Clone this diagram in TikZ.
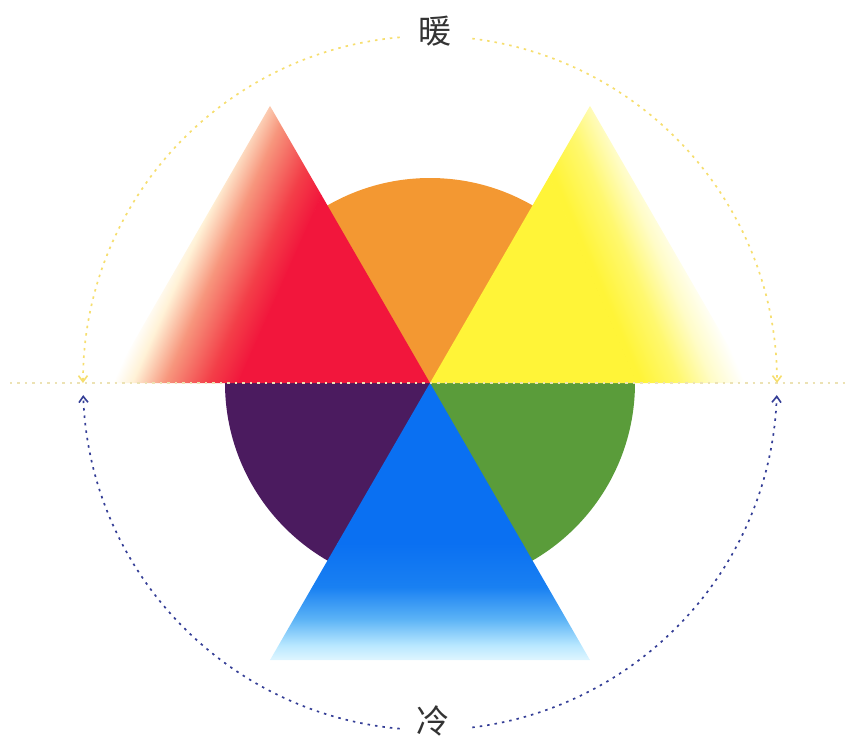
\documentclass[tikz,border=0pt]{standalone}
\usepackage{fontspec}
\newfontfamily\cjk{Noto Sans CJK SC}
\usetikzlibrary{arrows.meta}
\definecolor{cred}{RGB}{242,22,60}
\definecolor{corange}{RGB}{243,152,50}
\definecolor{cyellow}{RGB}{255,244,56}
\definecolor{cpurple}{RGB}{75,27,95}
\definecolor{cgreen}{RGB}{90,156,58}
\definecolor{cblue}{RGB}{10,112,242}
\definecolor{rcream}{RGB}{255,242,215}
\definecolor{rsalmon}{RGB}{247,150,125}
\definecolor{rpink}{RGB}{243,62,72}
\definecolor{ylight}{RGB}{255,248,110}
\definecolor{ypale}{RGB}{255,252,200}
\definecolor{bwhite}{RGB}{236,250,255}
\definecolor{bpale}{RGB}{185,232,255}
\definecolor{bmid}{RGB}{90,178,246}
\definecolor{bdeep}{RGB}{25,128,242}
\definecolor{warmline}{RGB}{246,222,110}
\definecolor{coldline}{RGB}{52,62,150}
\definecolor{axisline}{RGB}{236,226,180}
\pgfdeclarehorizontalshading{redfade}{100bp}{color(0bp)=(white); color(29bp)=(white); color(36bp)=(rcream); color(48bp)=(rsalmon); color(64bp)=(rpink); color(75bp)=(cred); color(100bp)=(cred)}
\pgfdeclarehorizontalshading{yellowfade}{100bp}{color(0bp)=(cyellow); color(27.3bp)=(cyellow); color(43.2bp)=(ylight); color(57.3bp)=(ypale); color(70.5bp)=(white); color(100bp)=(white)}
\pgfdeclareverticalshading{bluefade}{100bp}{color(0bp)=(bwhite); color(25bp)=(bwhite); color(33bp)=(bpale); color(44bp)=(bmid); color(57bp)=(bdeep); color(75bp)=(cblue); color(100bp)=(cblue)}
\begin{document}
\begin{tikzpicture}[x=1pt,y=1pt,
  warmarc/.style={draw=warmline,line width=1.7pt,dash pattern=on 2.5pt off 5pt,
    -{Straight Barb[length=6pt,width=9pt,line width=1.6pt]}},
  coldarc/.style={draw=coldline,line width=1.7pt,dash pattern=on 2.5pt off 5pt,
    -{Straight Barb[length=6pt,width=9pt,line width=1.6pt]}},
  axis/.style={draw=axisline,line width=1.7pt,dash pattern=on 2.5pt off 5pt},
  lab/.style={font=\cjk\fontsize{33}{33}\selectfont,text=black!80,inner sep=0pt}]
\useasboundingbox (-430,-362) rectangle (416,383);
% circle sectors
\fill[corange] (0,0) -- (205,0) arc[start angle=0,end angle=180,radius=205] -- cycle;
\fill[cpurple] (0,0) -- (-205,0) arc[start angle=180,end angle=270,radius=205] -- cycle;
\fill[cgreen] (0,0) -- (0,-205) arc[start angle=270,end angle=360,radius=205] -- cycle;
% red triangle
\begin{scope}
  \clip (0,0) -- (-320,0) -- (-160,277.1) -- cycle;
  \begin{scope}[transform canvas={rotate=-24}]
    \shade[shading=redfade] (-300,-450) rectangle (-175,450);
    \fill[cred] (-175.5,-450) rectangle (60,450);
  \end{scope}
\end{scope}
% yellow triangle
\begin{scope}
  \clip (0,0) -- (320,0) -- (160,277.1) -- cycle;
  \begin{scope}[transform canvas={rotate=23}]
    \fill[cyellow] (-60,-450) rectangle (190.5,450);
    \shade[shading=yellowfade] (190,-450) rectangle (300,450);
  \end{scope}
\end{scope}
% blue triangle
\begin{scope}
  \clip (0,0) -- (-160,-277.1) -- (160,-277.1) -- cycle;
  \shade[shading=bluefade] (-200,-282) rectangle (200,-160);
  \fill[cblue] (-200,-160.5) rectangle (200,10);
\end{scope}
% horizontal axis
\coordinate (axL) at (-420,0);
\coordinate (axR) at (416,0);
\draw[axis] (axL) -- (axR);
% labels
\node[lab] (warm) at (5,352) {暖};
\node[lab] (cold) at (3,-338) {冷};
% arcs
\coordinate (wL) at (95:347);
\coordinate (wR) at (83:347);
\coordinate (cL) at (265:347);
\coordinate (cR) at (277:347);
\draw[warmarc] (wL) arc[start angle=95,end angle=180,radius=347];
\draw[warmarc] (wR) arc[start angle=83,end angle=0,radius=347];
\draw[coldarc] (cL) arc[start angle=265,end angle=182,radius=347];
\draw[coldarc] (cR) arc[start angle=277,end angle=358,radius=347];
\end{tikzpicture}
\end{document}
